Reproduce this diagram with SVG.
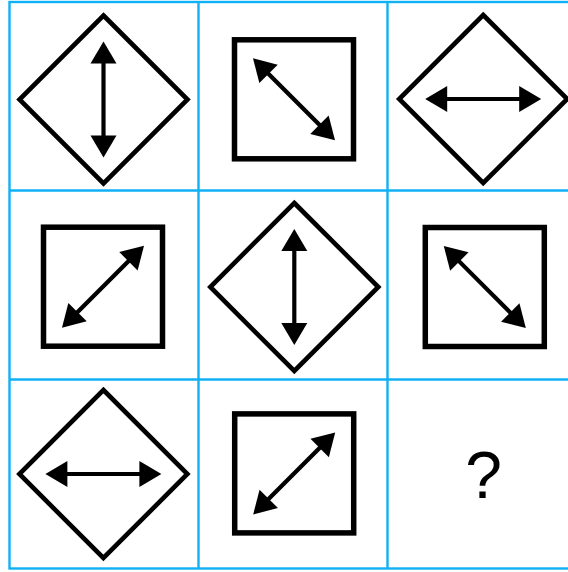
<svg xmlns="http://www.w3.org/2000/svg" xmlns:xlink="http://www.w3.org/1999/xlink" width="568" height="572" viewBox="0 0 568 572">
<style>
.grid{fill:none;stroke:#10b0f4;stroke-width:2.4}
.dia{fill:none;stroke:#000;stroke-width:4.6;stroke-linejoin:miter}
.sq{fill:none;stroke:#000;stroke-width:5.5}
.q{font-family:"Liberation Sans",Arial,sans-serif;font-size:66px;fill:#000;text-anchor:middle}
</style>
<defs>
<g id="arr">
<line x1="-38" y1="0" x2="38" y2="0" stroke="#000" stroke-width="4.2"/>
<polygon points="-58,0 -36,-13 -36,13" fill="#000"/>
<polygon points="58,0 36,-13 36,13" fill="#000"/>
</g>
<path id="diamond" class="dia" d="M0,-84 L84,0 L0,84 L-84,0 Z"/>
<rect id="square" class="sq" x="-59.5" y="-59.5" width="119" height="119"/>
</defs>
<rect width="568" height="572" fill="#fff"/>
<g id="grid" class="grid">
<rect x="9.5" y="2" width="567" height="566.5"/>
<line x1="198.5" y1="2" x2="198.5" y2="568.5"/>
<line x1="387.5" y1="2" x2="387.5" y2="568.5"/>
<line x1="9.5" y1="190.5" x2="576.5" y2="190.5"/>
<line x1="9.5" y1="379.5" x2="576.5" y2="379.5"/>
</g>
<g id="cell11" transform="translate(103.5,99.5)"><use xlink:href="#diamond"/><use xlink:href="#arr" transform="rotate(90)"/></g>
<g id="cell12" transform="translate(294,99.3)"><use xlink:href="#square"/><use xlink:href="#arr" transform="rotate(45)"/></g>
<g id="cell13" transform="translate(483.2,99)"><use xlink:href="#diamond"/><use xlink:href="#arr"/></g>
<g id="cell21" transform="translate(103,286.7)"><use xlink:href="#square"/><use xlink:href="#arr" transform="rotate(-45)"/></g>
<g id="cell22" transform="translate(294.3,287)"><use xlink:href="#diamond"/><use xlink:href="#arr" transform="rotate(90)"/></g>
<g id="cell23" transform="translate(484.8,287)"><use xlink:href="#square"/><use xlink:href="#arr" transform="rotate(45)"/></g>
<g id="cell31" transform="translate(103.4,474)"><use xlink:href="#diamond"/><use xlink:href="#arr"/></g>
<g id="cell32" transform="translate(294.2,473.4)"><use xlink:href="#square"/><use xlink:href="#arr" transform="rotate(-45)"/></g>
<g id="cell33"><text class="q" x="483.7" y="497.5">?</text></g>
</svg>
